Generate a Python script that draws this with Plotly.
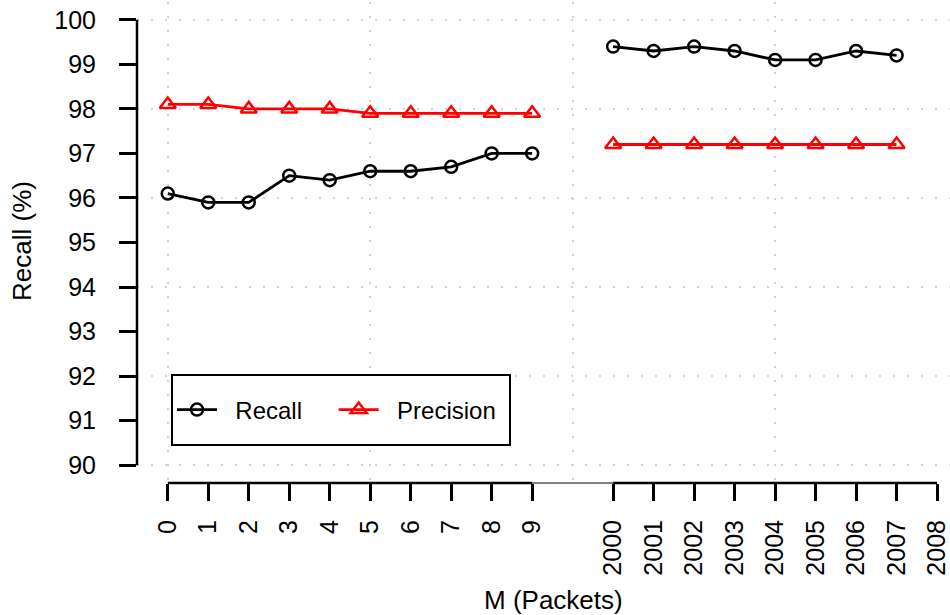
import plotly.graph_objects as go

# ---- data ----
m_left = ["0", "1", "2", "3", "4", "5", "6", "7", "8", "9"]
m_right = ["2000", "2001", "2002", "2003", "2004", "2005", "2006", "2007"]
recall_left = [96.1, 95.9, 95.9, 96.5, 96.4, 96.6, 96.6, 96.7, 97.0, 97.0]
precision_left = [98.1, 98.1, 98.0, 98.0, 98.0, 97.9, 97.9, 97.9, 97.9, 97.9]
recall_right = [99.4, 99.3, 99.4, 99.3, 99.1, 99.1, 99.3, 99.2]
precision_right = [97.2, 97.2, 97.2, 97.2, 97.2, 97.2, 97.2, 97.2]
x_tick_labels = m_left + ["2000", "2001", "2002", "2003", "2004", "2005", "2006", "2007", "2008"]
y_ticks = list(range(90, 101))

# broken axis: left block at positions 0..9, right block at 11..19
pos_left = list(range(len(m_left)))
gap = 1
right_start = len(m_left) + gap
pos_right = [right_start + i for i in range(len(m_right))]
tick_pos = pos_left + [right_start + i for i in range(9)]

W, H = 950, 615
ML, MT, MR = 137, 2, 0
MB = H - 483
x0 = -0.76
x1 = 19.32
plot_w = W - ML - MR
plot_h = H - MT - MB
y_range = [89.6, 100.4]

def px_x(p):
    return (p - ML) / plot_w

def px_y(p):
    return (MT + plot_h - p) / plot_h

FONT = "Liberation Sans, Arial, sans-serif"
RED = "#ff0000"
LW = 2.8
NB = "\u00a0"

fig = go.Figure()

def add(xs, ys, name, label, color, symbol, size, show):
    fig.add_trace(go.Scatter(
        x=xs, y=ys, mode="lines+markers", name=label, legendgroup=name,
        showlegend=show,
        line=dict(color=color, width=LW),
        marker=dict(symbol=symbol, size=size, color=color,
                    line=dict(color=color, width=2.5)),
    ))

rec_label = NB * 2 + "Recall" + NB * 4
pre_label = NB * 2 + "Precision"
add(pos_left, recall_left, "Recall", rec_label, "black", "circle-open", 12, True)
add(pos_right, recall_right, "Recall", rec_label, "black", "circle-open", 12, False)
add(pos_left, precision_left, "Precision", pre_label, RED, "triangle-up-open", 14, True)
add(pos_right, precision_right, "Precision", pre_label, RED, "triangle-up-open", 14, False)

grid = dict(showgrid=True, gridcolor="#d3d3d3", gridwidth=1.5, griddash="2px,12px")

fig.update_layout(
    width=W, height=H,
    margin=dict(l=ML, r=MR, t=MT, b=MB, autoexpand=False),
    paper_bgcolor="white", plot_bgcolor="white",
    font=dict(family=FONT, size=25, color="black"),
    showlegend=True,
    xaxis=dict(range=[x0, x1], tickmode="array", tickvals=tick_pos, ticktext=x_tick_labels,
               tickangle=-90, ticks="outside", ticklen=17, tickwidth=2.5, tickcolor="black",
               showgrid=False, zeroline=False, showline=False, automargin=False,
               ticklabeloverflow="allow", ticklabelstandoff=9, tickfont=dict(size=25)),
    yaxis=dict(range=y_range, tickmode="array", tickvals=y_ticks,
               ticks="outside", ticklen=17, tickwidth=2.5, tickcolor="black",
               showgrid=False, zeroline=False, showline=False, automargin=False,
               ticklabeloverflow="allow", ticklabelstandoff=18, tickfont=dict(size=25)),
    xaxis2=dict(overlaying="x", range=[x0, x1], tickmode="array", tickvals=[0, 5, 10, 15],
                showticklabels=False, ticks="", zeroline=False, showline=False, automargin=False, **grid),
    yaxis2=dict(overlaying="y", range=y_range, tickmode="array", tickvals=[90, 92, 94, 96, 98, 100],
                showticklabels=False, ticks="", zeroline=False, showline=False, automargin=False, **grid),
    legend=dict(orientation="h", x=px_x(172), y=px_y(410), xanchor="left", yanchor="middle",
                bgcolor="rgba(0,0,0,0)", borderwidth=0,
                font=dict(size=24), itemwidth=40),
)

# dummy trace to activate overlay axes
fig.add_trace(go.Scatter(x=[None], y=[None], xaxis="x2", yaxis="y2", showlegend=False, hoverinfo="skip"))

# legend frame
fig.add_shape(type="rect", xref="paper", yref="paper", x0=px_x(172), x1=px_x(510),
              y0=px_y(445), y1=px_y(375), fillcolor="white", layer="above",
              line=dict(color="black", width=2))

# axis lines (R style, broken x axis)
fig.add_shape(type="line", xref="paper", yref="y", x0=0, x1=0, y0=y_ticks[0], y1=y_ticks[-1],
              line=dict(color="black", width=2.5))
fig.add_shape(type="line", xref="x", yref="paper", x0=pos_left[0], x1=pos_left[-1], y0=0, y1=0,
              line=dict(color="black", width=2.5))
fig.add_shape(type="line", xref="x", yref="paper", x0=pos_left[-1], x1=tick_pos[len(m_left)], y0=0, y1=0,
              line=dict(color="black", width=1))
fig.add_shape(type="line", xref="x", yref="paper", x0=tick_pos[len(m_left)], x1=tick_pos[-1], y0=0, y1=0,
              line=dict(color="black", width=2.5))

fig.add_annotation(text="Recall (%)", xref="paper", yref="paper",
                   x=px_x(22), y=px_y(241), textangle=-90, showarrow=False,
                   xanchor="center", yanchor="middle", font=dict(size=26))
fig.add_annotation(text="M (Packets)", xref="paper", yref="paper",
                   x=px_x(553), y=px_y(600), showarrow=False,
                   xanchor="center", yanchor="middle", font=dict(size=26))

fig.write_html("out.html", config={"displayModeBar": False},
               post_script="document.body.style.margin='0';document.body.style.padding='0';")
